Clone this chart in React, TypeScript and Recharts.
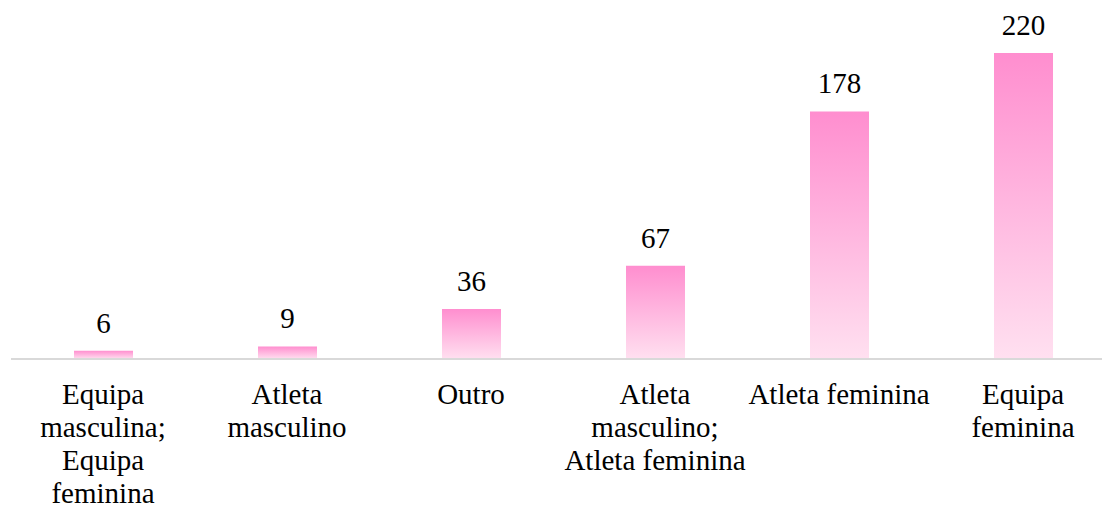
import React from "react";
import { BarChart, Bar, XAxis, YAxis, LabelList } from "recharts";

const categories = [
  "Equipa masculina; Equipa feminina",
  "Atleta masculino",
  "Outro",
  "Atleta masculino; Atleta feminina",
  "Atleta feminina",
  "Equipa feminina",
];
const counts = [6, 9, 36, 67, 178, 220];
const tickLines = [
  ["Equipa", "masculina;", "Equipa", "feminina"],
  ["Atleta", "masculino"],
  ["Outro"],
  ["Atleta", "masculino;", "Atleta feminina"],
  ["Atleta feminina"],
  ["Equipa", "feminina"],
];

const data = categories.map((name, i) => ({ name, value: counts[i] }));

const FONT = "Liberation Serif, Times New Roman, DejaVu Serif, serif";

const WrappedTick = (props: any) => {
  const { x, y, index } = props;
  const lines = tickLines[index] || [];
  return (
    <text x={x} y={y} textAnchor="middle" fill="#000" fontSize={29} style={{ fontFamily: FONT }}>
      {lines.map((ln, i) => (
        <tspan key={i} x={x} dy={i === 0 ? 37 : 33}>
          {ln}
        </tspan>
      ))}
    </text>
  );
};

export default function App() {
  return (
    <div
      style={{
        position: "fixed",
        top: 0,
        left: 0,
        width: 1102,
        height: 506,
        overflow: "hidden",
        background: "#fff",
        fontFamily: FONT,
      }}
    >
      <BarChart
        width={1115}
        height={506}
        data={data}
        margin={{ top: 53, right: 0, left: 11, bottom: 0 }}
        style={{ fontFamily: FONT }}
      >
        <defs>
          <linearGradient id="pinkFill" x1="0" y1="0" x2="0" y2="1">
            <stop offset="0%" stopColor="#FF8ECF" />
            <stop offset="100%" stopColor="#FFE0F0" />
          </linearGradient>
        </defs>
        <XAxis
          dataKey="name"
          height={147}
          interval={0}
          tickLine={false}
          axisLine={{ stroke: "#D9D9D9", strokeWidth: 2 }}
          tick={<WrappedTick />}
        />
        <YAxis hide domain={[0, 220]} />
        <Bar dataKey="value" fill="url(#pinkFill)" barSize={59} isAnimationActive={false}>
          <LabelList
            dataKey="value"
            position="top"
            offset={18}
            fill="#000"
            fontSize={29}
            style={{ fontFamily: FONT }}
          />
        </Bar>
      </BarChart>
    </div>
  );
}
